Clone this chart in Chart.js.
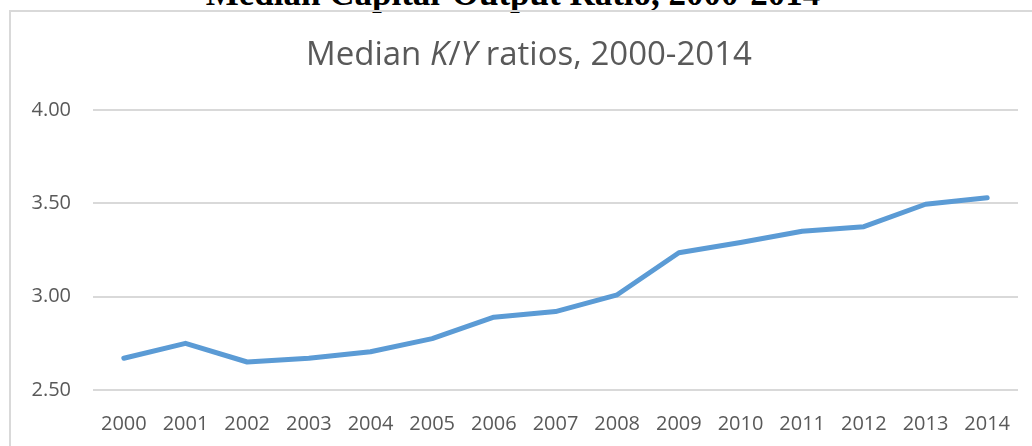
<!DOCTYPE html>
<html>
<head>
<meta charset="utf-8">
<script src="https://cdn.jsdelivr.net/npm/chart.js@4.4.0/dist/chart.umd.min.js"></script>
<style>
  html, body { margin: 0; padding: 0; background: #fff; overflow: hidden; width: 1032px; height: 446px; }
  #pageTitle {
    position: absolute; left: -3px; top: -26px; width: 1032px; line-height: 40px;
    text-align: center; white-space: nowrap; color: #000;
    font: bold 35px "Liberation Serif", "Times New Roman", serif;
  }
  #box {
    position: absolute; left: 9px; top: 10px; width: 1036px; height: 450px;
    border-left: 2px solid #d9d9d9; border-top: 2px solid #d9d9d9;
  }
</style>
</head>
<body>
<div id="pageTitle">Median Capital-Output Ratio, 2000-2014</div>
<div id="box"><canvas id="chart" width="1036" height="450"></canvas></div>
<script>
// values
const years = ["2000", "2001", "2002", "2003", "2004", "2005", "2006", "2007",
  "2008", "2009", "2010", "2011", "2012", "2013", "2014"];
const kyRatio = [2.67, 2.75, 2.65, 2.67, 2.705, 2.775, 2.89, 2.92,
  3.01, 3.235, 3.29, 3.35, 3.375, 3.495, 3.53];
const yTicks = [2.5, 3.0, 3.5, 4.0];

// title with italic K and Y, drawn in pieces
const titleParts = [
  { text: "Median ", italic: false },
  { text: "K", italic: true },
  { text: "/", italic: false },
  { text: "Y", italic: true },
  { text: " ratios, 2000-2014", italic: false }
];

const mixedTitle = {
  id: "mixedTitle",
  afterDraw(chart) {
    const ctx = chart.ctx;
    const size = 33;
    const fam = "'Open Sans', sans-serif";
    ctx.save();
    ctx.fillStyle = "#595959";
    ctx.textBaseline = "alphabetic";
    let total = 0;
    titleParts.forEach((p) => {
      ctx.font = (p.italic ? "italic " : "") + size + "px " + fam;
      p.w = ctx.measureText(p.text).width;
      total += p.w;
    });
    let x = chart.width / 2 - total / 2;
    titleParts.forEach((p) => {
      ctx.font = (p.italic ? "italic " : "") + size + "px " + fam;
      ctx.fillText(p.text, x, 53);
      x += p.w;
    });
    ctx.restore();
  }
};

Chart.defaults.font.family = "'Open Sans', sans-serif";
Chart.defaults.color = "#595959";

new Chart(document.getElementById("chart"), {
  type: "line",
  data: {
    labels: years,
    datasets: [{
      data: kyRatio,
      borderColor: "#5b9bd5",
      borderWidth: 5,
      borderCapStyle: "round",
      borderJoinStyle: "round",
      pointRadius: 0,
      tension: 0,
      fill: false
    }]
  },
  options: {
    responsive: false,
    animation: false,
    devicePixelRatio: 1,
    layout: { padding: { top: 98, right: 29, bottom: 22, left: 0 } },
    plugins: {
      legend: { display: false },
      tooltip: { enabled: false }
    },
    scales: {
      x: {
        offset: true,
        grid: { display: false, drawTicks: false },
        border: { display: false },
        ticks: { font: { size: 20 }, padding: 22, maxRotation: 0, autoSkip: false },
        afterFit: (scale) => { scale.height = 50; }
      },
      y: {
        min: 2.5,
        max: 4.0,
        afterBuildTicks: (scale) => { scale.ticks = yTicks.map((v) => ({ value: v })); },
        grid: { color: "#d9d9d9", lineWidth: 2, drawTicks: false },
        border: { display: false },
        ticks: { font: { size: 20 }, padding: 22, callback: (v) => Number(v).toFixed(2) },
        afterFit: (scale) => { scale.width = 82; }
      }
    }
  },
  plugins: [mixedTitle]
});
</script>
</body>
</html>
